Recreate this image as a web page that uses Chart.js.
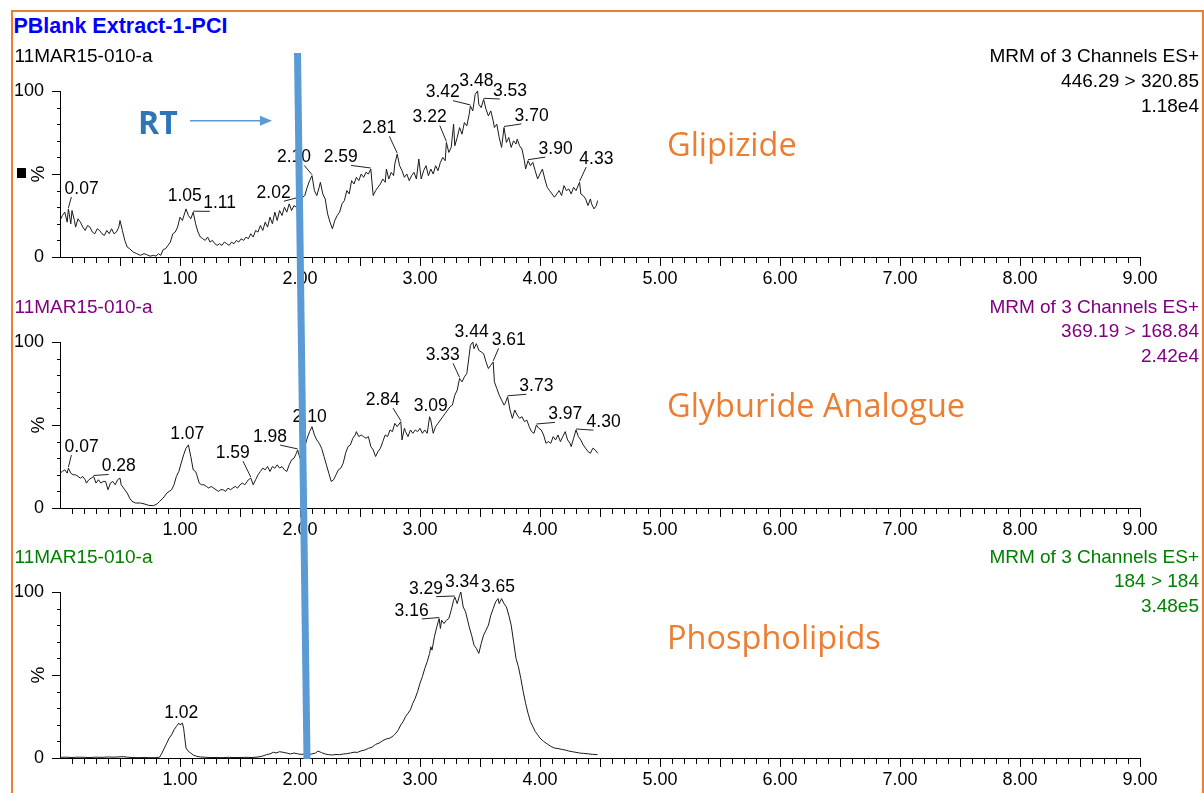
<!DOCTYPE html>
<html>
<head>
<meta charset="utf-8">
<title>PBlank Extract-1-PCI</title>
<script src="https://cdn.jsdelivr.net/npm/chart.js@4.4.1/dist/chart.umd.min.js"></script>
<style>
  html, body { margin: 0; padding: 0; background: #fff; }
  body { width: 1204px; height: 793px; position: relative; overflow: hidden;
         font-family: "Liberation Sans", Arial, sans-serif; }
  canvas.panel { position: absolute; left: 0; }
  .frame { position: absolute; left: 11px; top: 10px; width: 1193px; height: 830px;
           border: 2px solid #ED7D31; box-sizing: border-box; }
  .title { position: absolute; left: 13.5px; top: 16px; font-size: 21.5px; line-height: 21.5px;
           font-weight: bold; color: #0000ff; white-space: nowrap; }
  .hdr { position: absolute; font-size: 19px; line-height: 24.6px; white-space: nowrap; }
  .hdr.left { left: 14.5px; }
  .hdr.right { right: 5px; text-align: right; }
  .cmpd { position: absolute; left: 667px; font-family: "Open Sans", sans-serif; font-size: 32.5px;
          line-height: 32px; color: #ED7D31; white-space: nowrap; }
  .rt { position: absolute; left: 138px; top: 106px; font-family: "Open Sans", sans-serif;
        font-weight: bold; font-size: 32px; line-height: 32px; color: #2E75B6; }
  .mark { position: absolute; left: 17px; top: 168px; width: 9px; height: 10px; background: #000; }
  svg.overlay { position: absolute; left: 0; top: 0; pointer-events: none; }
</style>
</head>
<body>
<div class="frame"></div>

<canvas class="panel" id="glipChart" width="1204" height="230" style="top:61px"></canvas>
<canvas class="panel" id="glybChart" width="1204" height="230" style="top:312px"></canvas>
<canvas class="panel" id="phosChart" width="1204" height="230" style="top:562px"></canvas>

<div class="title">PBlank Extract-1-PCI</div>

<div class="hdr left" style="top:44.4px;color:#000">11MAR15-010-a</div>
<div class="hdr right" style="top:44.4px;color:#000">MRM of 3 Channels ES+<br>446.29 &gt; 320.85<br>1.18e4</div>
<div class="hdr left" style="top:294.9px;color:#800080">11MAR15-010-a</div>
<div class="hdr right" style="top:294.9px;color:#800080">MRM of 3 Channels ES+<br>369.19 &gt; 168.84<br>2.42e4</div>
<div class="hdr left" style="top:544.9px;color:#008000">11MAR15-010-a</div>
<div class="hdr right" style="top:544.9px;color:#008000">MRM of 3 Channels ES+<br>184 &gt; 184<br>3.48e5</div>

<div class="cmpd" style="top:127.5px">Glipizide</div>
<div class="cmpd" style="top:388.5px">Glyburide Analogue</div>
<div class="cmpd" style="top:620.5px">Phospholipids</div>

<div class="rt">RT</div>
<div class="mark"></div>

<svg class="overlay" width="1204" height="793">
  <line x1="190" y1="120.7" x2="262" y2="120.7" stroke="#5B9BD5" stroke-width="1.5"/>
  <polygon points="260,115.7 272,120.7 260,125.7" fill="#5B9BD5"/>
  <line x1="297.5" y1="53" x2="307" y2="759" stroke="#5B9BD5" stroke-width="7"/>
</svg>

<script>
// retention time (min) vs relative intensity (%)
const glipizide = [
  [0.00,22],[0.02,25],[0.04,27],[0.06,21],[0.07,29],[0.09,20],[0.10,28],[0.12,22],[0.13,18],
  [0.15,23],[0.17,21],[0.19,18],[0.21,16],[0.23,19],[0.25,18],[0.27,15],[0.29,14],[0.31,17],
  [0.33,16],[0.35,14],[0.37,13],[0.39,16],[0.41,14],[0.43,17],[0.45,14],[0.47,15],[0.49,18],
  [0.50,22],[0.52,16],[0.54,10],[0.56,6],[0.58,5],[0.61,3],[0.64,2],[0.67,1],[0.70,2],
  [0.72,1.5],[0.75,0.5],[0.78,1],[0.80,0.5],[0.82,2],[0.84,1],[0.86,4.5],[0.88,5],[0.90,7],
  [0.92,9],[0.94,14],[0.96,15],[0.98,18],[1.00,24],[1.02,22],[1.05,29],[1.07,25],[1.09,23],
  [1.11,27],[1.13,20],[1.15,15],[1.17,12],[1.19,11],[1.21,10],[1.23,12],[1.25,9],[1.27,10],
  [1.29,8],[1.31,7],[1.33,8],[1.35,7],[1.37,9],[1.39,8],[1.41,7],[1.43,9],[1.45,8],[1.47,10],
  [1.49,9],[1.51,11],[1.53,10],[1.55,12],[1.57,11],[1.59,14],[1.61,12],[1.63,16],[1.65,15],
  [1.67,19],[1.69,16],[1.71,21],[1.73,18],[1.75,24],[1.77,20],[1.79,27],[1.81,22],[1.83,28],
  [1.85,25],[1.87,30],[1.89,27],[1.91,32],[1.93,28],[1.95,31],[1.97,30],[2.00,33],[2.02,36],
  [2.04,37],[2.06,42],[2.08,46],[2.10,49],[2.12,40],[2.14,37],[2.16,42],[2.17,45],[2.19,38],
  [2.21,35],[2.23,26],[2.25,21],[2.27,17],[2.29,22],[2.31,25],[2.33,27],[2.35,32],[2.37,34],
  [2.39,40],[2.41,38],[2.43,46],[2.45,44],[2.47,48],[2.49,46],[2.51,50],[2.53,48],[2.55,51],
  [2.57,50],[2.59,53],[2.61,37],[2.63,40],[2.65,42],[2.67,44],[2.69,47],[2.71,45],[2.72,53],
  [2.74,47],[2.76,51],[2.78,49],[2.79,56],[2.81,62],[2.83,55],[2.85,52],[2.87,48],[2.89,50],
  [2.91,46],[2.93,49],[2.95,51],[2.97,47],[2.99,59],[3.01,47],[3.03,52],[3.05,55],[3.07,49],
  [3.09,53],[3.11,50],[3.13,55],[3.15,52],[3.17,57],[3.19,60],[3.21,58],[3.22,69],[3.24,63],
  [3.26,66],[3.28,80],[3.29,67],[3.31,72],[3.33,78],[3.35,74],[3.37,81],[3.39,79],[3.41,86],
  [3.42,91],[3.44,88],[3.46,98],[3.48,100],[3.49,92],[3.51,90],[3.53,95],[3.55,89],[3.57,85],
  [3.59,88],[3.61,82],[3.62,78],[3.64,80],[3.66,72],[3.68,66],[3.70,78],[3.72,69],[3.74,72],
  [3.76,66],[3.78,70],[3.80,68],[3.81,71],[3.83,67],[3.85,65],[3.87,58],[3.88,53],[3.90,58],
  [3.92,55],[3.94,57],[3.96,52],[3.98,47],[4.00,50],[4.02,53],[4.04,47],[4.06,42],[4.08,40],
  [4.10,38],[4.12,36],[4.14,38],[4.16,40],[4.18,37],[4.20,43],[4.22,40],[4.24,41],[4.26,38],
  [4.28,42],[4.30,40],[4.33,45],[4.34,38],[4.36,37],[4.38,35],[4.40,31],[4.42,35],[4.43,32],
  [4.45,29],[4.47,31],[4.48,34]
];

const glyburide = [
  [0.00,21],[0.02,22],[0.04,23],[0.06,21],[0.07,24],[0.09,21],[0.11,20],[0.13,20],[0.15,19],
  [0.17,18],[0.19,19],[0.21,17],[0.22,15],[0.24,17],[0.26,18],[0.28,19],[0.30,15],[0.32,17],
  [0.34,15],[0.36,16],[0.38,16],[0.40,11],[0.42,15],[0.44,16],[0.46,14],[0.48,17],[0.50,18],
  [0.51,14],[0.53,12],[0.56,9],[0.58,6],[0.60,4],[0.63,3],[0.67,3],[0.70,2.5],[0.74,1.6],
  [0.78,1.4],[0.81,2.5],[0.83,4],[0.86,6],[0.89,9],[0.91,10],[0.93,11],[0.95,14],[0.97,19],
  [0.99,22],[1.01,27],[1.03,32],[1.05,36],[1.07,38],[1.09,31],[1.11,23],[1.13,22],[1.14,20],
  [1.16,15],[1.18,14],[1.20,14],[1.22,13],[1.24,12],[1.26,13],[1.28,12],[1.30,11],[1.32,10],
  [1.34,11],[1.36,11],[1.38,10],[1.40,12],[1.42,11],[1.44,12],[1.46,13],[1.48,12],[1.50,14],
  [1.52,15],[1.54,14],[1.56,16],[1.57,17],[1.59,18],[1.61,14],[1.63,17],[1.65,20],[1.67,22],
  [1.69,24],[1.71,23],[1.73,25],[1.75,22],[1.77,25],[1.79,24],[1.81,26],[1.83,24],[1.85,25],
  [1.87,23],[1.89,22],[1.91,26],[1.93,29],[1.95,30],[1.97,33],[1.98,35],[2.00,30],[2.02,34],
  [2.04,37],[2.06,42],[2.08,46],[2.10,49],[2.12,44],[2.14,41],[2.16,39],[2.18,36],[2.20,31],
  [2.22,26],[2.24,21],[2.26,16],[2.28,17],[2.30,20],[2.32,23],[2.34,24],[2.36,27],[2.38,33],
  [2.40,37],[2.42,38],[2.44,42],[2.46,44],[2.47,46],[2.49,43],[2.51,44],[2.53,43],[2.55,42],
  [2.57,43],[2.59,37],[2.61,35],[2.63,31],[2.65,34],[2.67,36],[2.69,40],[2.71,44],[2.73,43],
  [2.75,47],[2.77,46],[2.79,51],[2.81,49],[2.84,52],[2.85,41],[2.87,48],[2.88,46],[2.90,43],
  [2.92,47],[2.94,45],[2.96,47],[2.98,46],[3.00,48],[3.02,45],[3.04,47],[3.06,45],[3.08,55],
  [3.09,53],[3.11,45],[3.13,49],[3.15,51],[3.17,53],[3.19,55],[3.21,57],[3.23,59],[3.25,61],
  [3.27,62],[3.29,68],[3.31,71],[3.33,78],[3.35,76],[3.37,79],[3.39,81],[3.41,92],[3.42,98],
  [3.44,100],[3.45,96],[3.47,99],[3.49,95],[3.51,94],[3.53,93],[3.55,88],[3.57,84],[3.59,86],
  [3.61,88],[3.62,76],[3.64,72],[3.66,68],[3.68,65],[3.70,62],[3.71,63],[3.73,67],[3.75,59],
  [3.77,54],[3.79,59],[3.81,56],[3.83,54],[3.85,55],[3.87,52],[3.89,53],[3.91,49],[3.93,46],
  [3.95,45],[3.97,50],[3.99,48],[4.01,47],[4.03,44],[4.05,39],[4.07,40],[4.09,39],[4.11,43],
  [4.13,41],[4.15,44],[4.17,40],[4.19,43],[4.21,46],[4.23,41],[4.25,39],[4.26,37],[4.28,42],
  [4.30,47],[4.32,43],[4.34,41],[4.36,38],[4.38,36],[4.40,34],[4.42,33],[4.44,36],[4.46,35],
  [4.48,33]
];

const phospholipids = [
  [0.00,0.4],[0.05,0.5],[0.10,0.3],[0.15,0.5],[0.20,0.4],[0.25,0.3],[0.30,0.5],[0.35,0.4],
  [0.40,0.6],[0.45,0.5],[0.50,0.7],[0.53,0.8],[0.56,0.5],[0.60,0.3],[0.65,0.2],[0.70,0.3],
  [0.75,0.2],[0.80,0.2],[0.83,0.5],[0.85,3],[0.87,6],[0.89,9],[0.91,12],[0.93,14],[0.95,17],
  [0.97,19],[0.99,21],[1.00,20],[1.02,21],[1.03,18],[1.04,12],[1.05,6],[1.07,4],[1.09,3],
  [1.11,1.8],[1.14,1.0],[1.17,0.6],[1.20,0.5],[1.25,0.3],[1.30,0.3],[1.35,0.2],[1.40,0.4],
  [1.45,0.3],[1.50,0.3],[1.55,0.4],[1.60,0.3],[1.65,0.6],[1.69,1.2],[1.72,2.0],[1.75,2.5],
  [1.78,3.5],[1.80,3.0],[1.83,3.8],[1.86,3.4],[1.89,3.0],[1.92,2.4],[1.95,3.0],[1.98,2.5],
  [2.01,2.2],[2.04,2.4],[2.07,2.0],[2.10,2.5],[2.13,3.0],[2.15,4.2],[2.18,3.2],[2.21,2.4],
  [2.24,2.0],[2.27,1.8],[2.30,2.1],[2.33,2.0],[2.36,2.4],[2.39,2.6],[2.42,3.0],[2.45,3.5],
  [2.48,3.4],[2.51,4.3],[2.54,4.8],[2.57,5.8],[2.60,6.5],[2.63,8.2],[2.66,9.0],[2.69,10.5],
  [2.72,11.5],[2.75,12],[2.78,13.5],[2.80,15],[2.82,17],[2.84,20],[2.86,22],[2.88,25],
  [2.90,27],[2.92,29],[2.94,33],[2.96,36],[2.98,40],[3.00,45],[3.02,49],[3.04,54],[3.06,58],
  [3.08,63],[3.09,67],[3.10,65],[3.12,73],[3.14,79],[3.16,84],[3.17,78],[3.18,83],[3.20,81],
  [3.22,83],[3.24,84],[3.26,89],[3.28,95],[3.29,97],[3.31,93],[3.33,98],[3.34,100],[3.36,91],
  [3.38,88],[3.40,82],[3.41,79],[3.43,74],[3.45,68],[3.47,66],[3.49,63],[3.51,69],[3.53,74],
  [3.55,77],[3.57,80],[3.59,86],[3.61,90],[3.63,94],[3.65,96],[3.66,93],[3.68,96],[3.70,93],
  [3.72,91],[3.74,86],[3.76,80],[3.78,70],[3.80,60],[3.82,55],[3.84,48],[3.86,40],[3.88,33],
  [3.90,27],[3.92,22],[3.94,19],[3.96,16],[3.98,14],[4.00,12],[4.03,10],[4.06,8.5],[4.09,7],
  [4.12,6],[4.15,5.7],[4.18,5.2],[4.21,4.8],[4.24,4.2],[4.27,3.8],[4.30,3.4],[4.33,3],
  [4.36,2.8],[4.40,2.5],[4.44,2.2],[4.48,2.0]
];

// labelled peak apexes (min)
const glipPeaks = ['0.07','1.05','1.11','2.02','2.10','2.59','2.81','3.22','3.42','3.48','3.53','3.70','3.90','4.33'];
const glybPeaks = ['0.07','0.28','1.07','1.59','1.98','2.10','2.84','3.09','3.33','3.44','3.61','3.73','3.97','4.30'];
const phosPeaks = ['1.02','3.16','3.29','3.34','3.65'];

// where each peak label sits, in axis units (min, %)
const glipLabelAt = [[0.18,41],[1.04,36.5],[1.33,32.3],[1.78,38.4],[1.95,60],[2.34,60],[2.66,77.5],
  [3.08,84],[3.19,99],[3.47,106],[3.75,100],[3.93,85],[4.13,65],[4.47,59]];
const glybLabelAt = [[0.18,36.7],[0.49,25],[1.06,44.4],[1.44,33],[1.75,42.7],[2.08,54.8],[2.69,65],
  [3.09,61.3],[3.19,92],[3.43,106],[3.74,101],[3.97,73.3],[4.21,56.4],[4.53,51.7]];
const phosLabelAt = [[1.01,26.9],[2.93,88.6],[3.05,102],[3.35,106],[3.65,103]];

const xTickLabels = ['', '1.00', '2.00', '3.00', '4.00', '5.00', '6.00', '7.00', '8.00', '9.00'];

Chart.defaults.font.family = '"Liberation Sans", Arial, sans-serif';
Chart.defaults.color = '#000';

const tickMarks = {
  id: 'tickMarks',
  afterDraw(chart) {
    const ctx = chart.ctx, xs = chart.scales.x, ys = chart.scales.y;
    const { left, bottom } = chart.chartArea;
    ctx.save();
    ctx.strokeStyle = '#000';
    ctx.lineWidth = 1;
    ctx.beginPath();
    for (let k = 1; k <= 90; k++) {
      const px = Math.round(xs.getPixelForValue(k / 10)) + 0.5;
      const len = k % 5 === 0 ? 9 : 6;
      ctx.moveTo(px, bottom);
      ctx.lineTo(px, bottom + len);
    }
    for (let k = 0; k <= 10; k++) {
      const py = Math.round(ys.getPixelForValue(k * 10)) + 0.5;
      const len = k % 5 === 0 ? 8 : 3;
      ctx.moveTo(left - len, py);
      ctx.lineTo(left, py);
    }
    ctx.stroke();
    ctx.restore();
  }
};

function peakLabels(names, spots) {
  return {
    id: 'peakLabels',
    afterDatasetsDraw(chart) {
      const ctx = chart.ctx, xs = chart.scales.x, ys = chart.scales.y;
      const pts = chart.data.datasets[0].data;
      ctx.save();
      ctx.font = '17.5px "Liberation Sans", Arial, sans-serif';
      ctx.textAlign = 'center';
      ctx.textBaseline = 'middle';
      ctx.fillStyle = '#000';
      ctx.strokeStyle = '#222';
      ctx.lineWidth = 1;
      names.forEach((name, i) => {
        const rt = parseFloat(name);
        let apex = null;
        pts.forEach(p => {
          if (Math.abs(p.x - rt) <= 0.015 && (!apex || p.y > apex.y)) apex = p;
        });
        const ax = xs.getPixelForValue(apex.x), ay = ys.getPixelForValue(apex.y);
        const cx = xs.getPixelForValue(spots[i][0]), cy = ys.getPixelForValue(spots[i][1]);
        const w = ctx.measureText(name).width;
        const bx = Math.min(Math.max(ax, cx - w * 0.3), cx + w * 0.3);
        const by = cy + 8;
        if (Math.hypot(ax - bx, ay - by) > 5) {
          ctx.beginPath();
          ctx.moveTo(bx, by);
          ctx.lineTo(ax, ay - 1);
          ctx.stroke();
        }
        ctx.fillText(name, cx, cy);
      });
      ctx.restore();
    }
  };
}

function drawTrace(canvasId, trace, names, spots) {
  const ctx = document.getElementById(canvasId).getContext('2d');
  new Chart(ctx, {
    type: 'line',
    data: {
      datasets: [{
        data: trace.map(([x, y]) => ({ x, y })),
        borderColor: '#1a1a1a',
        borderWidth: 1,
        pointRadius: 0,
        tension: 0,
        fill: false,
        clip: false
      }]
    },
    options: {
      responsive: false,
      animation: false,
      events: [],
      layout: { padding: { left: 0, right: 64, top: 30, bottom: 0 } },
      plugins: { legend: { display: false }, tooltip: { enabled: false } },
      scales: {
        x: {
          type: 'linear',
          min: 0,
          max: 9,
          afterFit: (s) => { s.height = 34; },
          grid: { display: false },
          border: { display: true, color: '#000', width: 1 },
          ticks: {
            stepSize: 1,
            padding: 3,
            maxRotation: 0,
            autoSkip: false,
            font: { size: 18 },
            callback: (v) => xTickLabels[Math.round(v)]
          }
        },
        y: {
          min: 0,
          max: 100,
          afterFit: (s) => { s.width = 60; },
          grid: { display: false },
          border: { display: true, color: '#000', width: 1 },
          title: { display: true, text: '%', font: { size: 19 }, padding: { top: 27.5 } },
          ticks: { stepSize: 100, padding: 8, font: { size: 18 } }
        }
      }
    },
    plugins: [tickMarks, peakLabels(names, spots)]
  });
}

drawTrace('glipChart', glipizide, glipPeaks, glipLabelAt);
drawTrace('glybChart', glyburide, glybPeaks, glybLabelAt);
drawTrace('phosChart', phospholipids, phosPeaks, phosLabelAt);
</script>
</body>
</html>
